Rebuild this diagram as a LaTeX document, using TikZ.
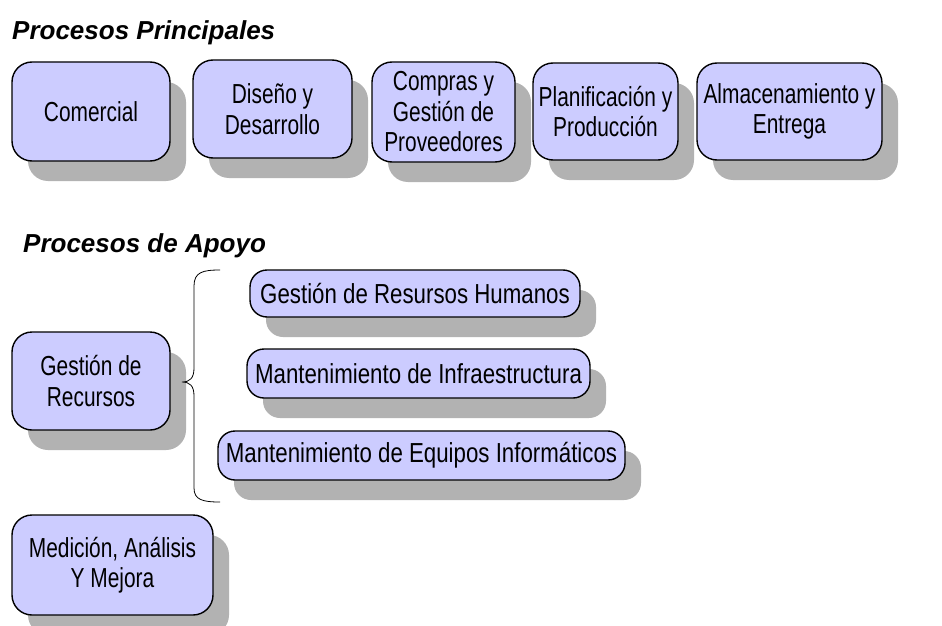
\documentclass[tikz,border=0pt]{standalone}
\usepackage{fontspec}
\setmainfont{Liberation Sans}[FakeStretch=0.76]
\newfontfamily\pillfont{Liberation Sans}[FakeStretch=0.81]
\newfontfamily\titlefont{Liberation Sans}
\usetikzlibrary{shadows}
\definecolor{boxfill}{HTML}{CCCCFF}
\definecolor{shadowgray}{HTML}{B2B2B2}
\tikzset{
  procbox/.style={draw=black, fill=boxfill, line width=1.4pt, rounded corners=20pt,
    align=center, inner sep=0pt, text=black,
    font=\fontsize{27.5}{30.5}\selectfont,
    drop shadow={shadow xshift=16pt, shadow yshift=-20pt, fill=shadowgray, opacity=1}},
  pillbox/.style={procbox, rounded corners=17pt, font=\pillfont\fontsize{27.5}{30.5}\selectfont},
  sectitle/.style={anchor=base west, inner sep=0pt, font=\titlefont\bfseries\itshape\fontsize{26}{30}\selectfont},
  bracel/.style={draw=black, line width=0.8pt}
}
\begin{document}
\begin{tikzpicture}[x=1pt,y=-1pt]
\clip (0,0) rectangle (942,626);
\fill[white] (0,0) rectangle (942,626);
\node[sectitle] (t1) at (12,40) {Procesos Principales};
\node[procbox, minimum width=158pt, minimum height=99pt] (com) at (91,111.5) {Comercial};
\node[procbox, minimum width=159pt, minimum height=98pt] (dis) at (272.5,109) {Diseño y\\Desarrollo};
\node[procbox, minimum width=143pt, minimum height=100pt] (comp) at (443.5,112) {Compras y\\Gestión de\\Proveedores};
\node[procbox, minimum width=145pt, minimum height=97pt] (plan) at (605.5,111.5) {Planificación y\\Producción};
\node[procbox, minimum width=185pt, minimum height=97pt] (alm) at (789.5,111.5) {Almacenamiento y\\Entrega};
\node[sectitle] (t2) at (23,252) {Procesos de Apoyo};
\node[procbox, minimum width=158pt, minimum height=98pt] (grec) at (91,381) {Gestión de\\Recursos};
\node[procbox, minimum width=201pt, minimum height=100pt] (med) at (112.5,565) {Medición, Análisis\\Y Mejora};
\node[pillbox, minimum width=330pt, minimum height=47pt] (grh) at (415,293.5) {Gestión de Resursos Humanos};
\node[pillbox, minimum width=343pt, minimum height=49pt] (minf) at (418.5,373.5) {Mantenimiento de Infraestructura};
\node[pillbox, minimum width=407pt, minimum height=49pt] (mei) at (421.5,455.5) {Mantenimiento de Equipos Informáticos};
\coordinate (btop) at (220,270);
\coordinate (btip) at (182,382);
\coordinate (bbot) at (220,502);
\draw[bracel] (btop) .. controls (203,270) and (194,272) .. (194,286) -- (194,368)
  .. controls (194,378) and (190,382) .. (btip)
  .. controls (190,382) and (194,386) .. (194,396) -- (194,488)
  .. controls (194,500) and (203,502) .. (bbot);
\end{tikzpicture}
\end{document}
